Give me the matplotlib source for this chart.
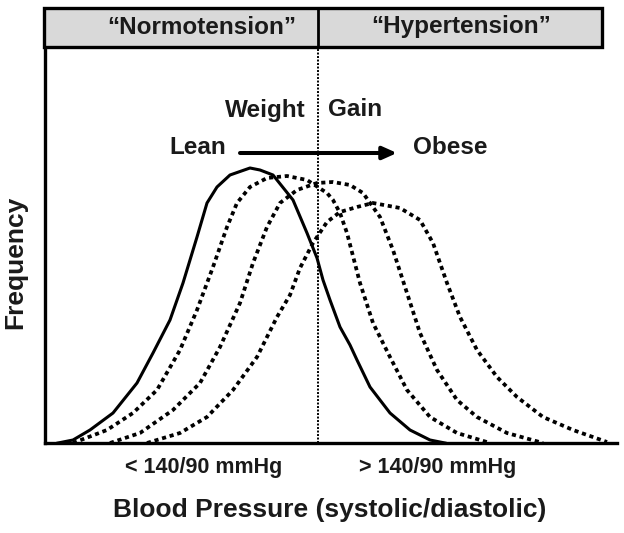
import matplotlib.pyplot as plt
from matplotlib.patches import Rectangle

plt.rcParams['font.family'] = ['Liberation Sans', 'DejaVu Sans']
plt.rcParams['font.weight'] = 'bold'

# curves (arbitrary BP units, frequency)
lean_x = [13, 28, 45, 68, 92, 108, 125, 138, 152, 162, 172, 185, 205, 215, 228, 248,
          262, 272, 278, 285, 295, 305, 312, 325, 345, 365, 385, 400]
lean_y = [0, 3, 13, 30, 60, 90, 123, 160, 206, 240, 256, 268, 275, 273, 268, 243,
          210, 185, 163, 143, 116, 98, 83, 56, 30, 13, 3, 0]

gain1_x = [28, 62, 88, 112, 135, 152, 168, 182, 192, 205, 222, 242, 262, 282, 288, 295,
           302, 315, 328, 345, 362, 385, 412, 445]
gain1_y = [0, 13, 30, 53, 93, 133, 176, 216, 240, 256, 265, 267, 263, 250, 243, 230,
           210, 160, 120, 86, 53, 26, 10, 0]

gain2_x = [65, 95, 128, 155, 175, 195, 208, 222, 235, 252, 272, 288, 305, 318, 335, 348,
           362, 375, 392, 412, 432, 462, 498]
gain2_y = [0, 10, 33, 60, 96, 140, 180, 216, 240, 253, 260, 261, 258, 250, 226, 193,
           150, 110, 73, 43, 26, 10, 0]

gain3_x = [102, 135, 162, 188, 212, 232, 245, 255, 268, 282, 295, 312, 328, 355, 375, 388,
           402, 415, 432, 452, 472, 498, 528, 562]
gain3_y = [0, 10, 26, 53, 86, 126, 148, 175, 200, 221, 231, 236, 240, 235, 223, 200,
           160, 126, 93, 66, 46, 26, 13, 1]

cutoff = 273
header_labels = ['\u201cNormotension\u201d', '\u201cHypertension\u201d']
bp_labels = ['< 140/90 mmHg', '> 140/90 mmHg']

fig = plt.figure(figsize=(6.24, 5.33), dpi=100)
W, H = 624, 533
txt = '#1a1a1a'

ax = fig.add_axes([45 / W, 1 - 443 / H, 572 / W, 396 / H])
ax.set_xlim(0, 572)
ax.set_ylim(0, 396)

ax.plot(lean_x, lean_y, color='black', lw=2.2, solid_joinstyle='round')
for gx, gy in [(gain1_x, gain1_y), (gain2_x, gain2_y), (gain3_x, gain3_y)]:
    ax.plot(gx, gy, color='black', lw=2.7, linestyle=(0, (1.1, 1.0)),
            dash_capstyle='butt')

ax.axvline(cutoff, color='black', lw=1.4, linestyle=(0, (1, 0.8)))

for s in ['top', 'right']:
    ax.spines[s].set_visible(False)
for s in ['left', 'bottom']:
    ax.spines[s].set_linewidth(2.4)
ax.set_xticks([])
ax.set_yticks([])

# header box
hx0, hx1 = 44 / W, 602 / W
hy0, hy1 = 1 - 47 / H, 1 - 8 / H
fig.patches.append(Rectangle((hx0, hy0), hx1 - hx0, hy1 - hy0, transform=fig.transFigure,
                             facecolor='#d9d9d9', edgecolor='black', lw=2.4))
fig.add_artist(plt.Line2D([318 / W, 318 / W], [hy0, hy1], transform=fig.transFigure,
                          color='black', lw=2.0))
fig.text(202 / W, 1 - 27 / H, header_labels[0], ha='center', va='center',
         fontsize=17.5, color=txt)
fig.text(461 / W, 1 - 27 / H, header_labels[1], ha='center', va='center',
         fontsize=17.5, color=txt)

# weight gain annotation
ax.text(261, 333, 'Weight', ha='right', va='center', fontsize=17.5, color=txt)
ax.text(283, 333, 'Gain', ha='left', va='center', fontsize=17.5, color=txt)
ax.text(181, 296, 'Lean', ha='right', va='center', fontsize=17.5, color=txt)
ax.text(368, 296, 'Obese', ha='left', va='center', fontsize=17.5, color=txt)
ax.annotate('', xy=(352, 290), xytext=(195, 290),
            arrowprops=dict(arrowstyle='-|>,head_length=0.85,head_width=0.38',
                            color='black', lw=2.9, shrinkA=0, shrinkB=0))

# below axis
fig.text(204 / W, 1 - 467 / H, bp_labels[0], ha='center', va='center',
         fontsize=15.5, color=txt)
fig.text(438 / W, 1 - 467 / H, bp_labels[1], ha='center', va='center',
         fontsize=15.5, color=txt)
fig.text(330 / W, 1 - 510 / H, 'Blood Pressure (systolic/diastolic)', ha='center',
         va='center', fontsize=19, color=txt)
fig.text(15 / W, 1 - 262 / H, 'Frequency', ha='center', va='center', rotation=90,
         fontsize=19, color=txt)

fig.savefig('out.png', dpi=100)
